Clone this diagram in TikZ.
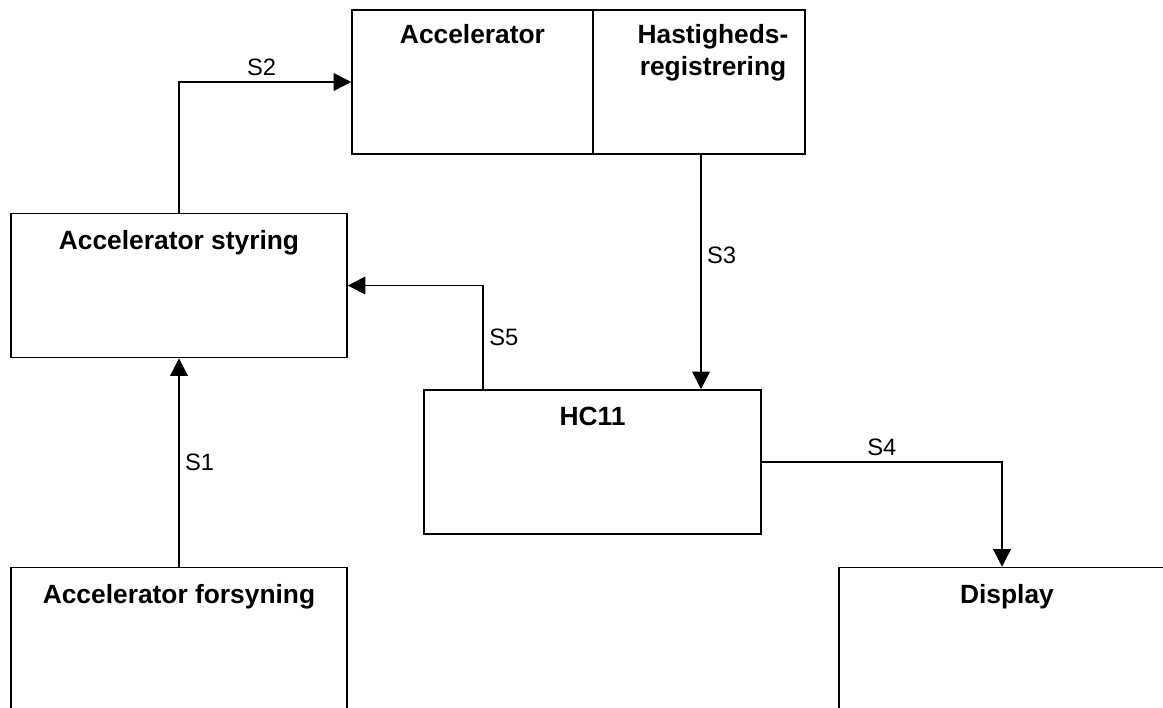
\documentclass[tikz,border=0pt]{standalone}
\usepackage{fontspec}
\setmainfont{Liberation Sans}
\usetikzlibrary{arrows.meta,calc}
\tikzset{
blok/.style={draw, line width=0.9pt, minimum width=6.72cm, minimum height=2.88cm, inner sep=0pt},
titel/.style={anchor=north, font=\bfseries\fontsize{15}{18}\selectfont, align=center, inner sep=0pt},
signal/.style={line width=0.9pt, -{Triangle[length=10pt,width=10pt]}},
navn/.style={font=\fontsize{13.5}{16}\selectfont, inner sep=3pt}
}
\begin{document}
\begin{tikzpicture}[x=0.02cm, y=-0.02cm]
\clip (0,0) rectangle (1163,707);
\node[blok, minimum width=4.82cm] (accel) at (472.5,82) {};
\node[blok, minimum width=4.24cm] (hast) at (699,82) {};
\node[blok] (styring) at (179,285.5) {};
\node[blok] (forsyning) at (179,639.5) {};
\node[blok, minimum width=6.74cm] (hc11) at (592.5,462) {};
\node[blok] (display) at (1007,639.5) {};
\node[titel] (taccel) at ($(accel.north)+(0,15)$) {Accelerator};
\node[titel] (thast) at ($(hast.north)+(14,15)$) {Hastigheds-\\registrering};
\node[titel] (tstyring) at ($(styring.north)+(0,17)$) {Accelerator styring};
\node[titel] (tforsyning) at ($(forsyning.north)+(0,17)$) {Accelerator forsyning};
\node[titel] (thc11) at ($(hc11.north)+(0,18)$) {HC11};
\node[titel] (tdisplay) at ($(display.north)+(0,17)$) {Display};
\coordinate (s5start) at ($(hc11.north west)+(60,0)$);
\coordinate (s3slut) at ($(hast.south |- hc11.north)+(2,0)$);
\coordinate (s4slut) at ($(display.north)+(-5,0)$);
\draw[signal] (forsyning.north) -- (styring.south) node[navn, midway, right] {S1};
\draw[signal] (styring.north) |- (accel.west) node[navn, pos=0.74, above] {S2};
\draw[signal] ($(hast.south)+(2,0)$) -- (s3slut) node[navn, pos=0.43, right] {S3};
\draw[signal] (hc11.east) -| (s4slut) node[navn, pos=0.25, above] {S4};
\draw[signal] (s5start) |- (styring.east) node[navn, pos=0.25, right] {S5};
\end{tikzpicture}
\end{document}
